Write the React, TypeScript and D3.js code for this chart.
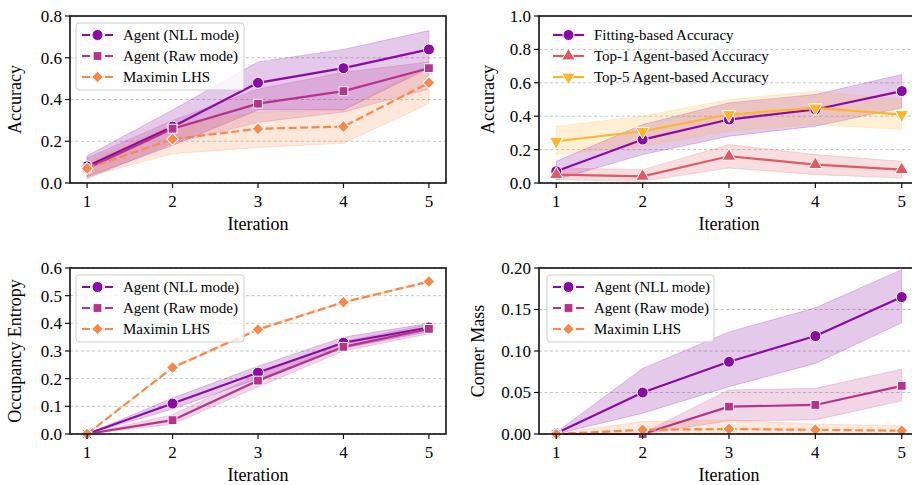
import React from 'react';
import * as d3 from 'd3';

// x positions (iterations)
const iterations = [1, 2, 3, 4, 5];

// panel A: accuracy by sampling method
const accNll = [0.08, 0.27, 0.48, 0.55, 0.64];
const accNllLo = [0.03, 0.18, 0.35, 0.35, 0.55];
const accNllHi = [0.13, 0.35, 0.58, 0.64, 0.73];
const accRaw = [0.07, 0.26, 0.38, 0.44, 0.55];
const accRawLo = [0.02, 0.19, 0.29, 0.34, 0.45];
const accRawHi = [0.12, 0.30, 0.45, 0.53, 0.58];
const accLhs = [0.07, 0.21, 0.26, 0.27, 0.48];
const accLhsLo = [0.03, 0.14, 0.17, 0.19, 0.38];
const accLhsHi = [0.10, 0.28, 0.34, 0.35, 0.57];

// panel B: fitting vs agent accuracy
const fitAcc = [0.07, 0.26, 0.38, 0.44, 0.55];
const fitAccLo = [0.02, 0.17, 0.28, 0.34, 0.45];
const fitAccHi = [0.13, 0.35, 0.48, 0.53, 0.65];
const top1Acc = [0.05, 0.04, 0.16, 0.11, 0.08];
const top1AccLo = [0.02, 0.01, 0.09, 0.05, 0.03];
const top1AccHi = [0.09, 0.08, 0.23, 0.17, 0.13];
const top5Acc = [0.25, 0.31, 0.41, 0.45, 0.41];
const top5AccLo = [0.17, 0.22, 0.31, 0.35, 0.32];
const top5AccHi = [0.34, 0.40, 0.50, 0.55, 0.50];

// panel C: occupancy entropy
const entNll = [0.0, 0.11, 0.222, 0.33, 0.385];
const entNllLo = [0.0, 0.09, 0.20, 0.31, 0.37];
const entNllHi = [0.0, 0.13, 0.245, 0.35, 0.40];
const entRaw = [0.0, 0.05, 0.193, 0.315, 0.38];
const entRawLo = [0.0, 0.035, 0.17, 0.30, 0.362];
const entRawHi = [0.0, 0.07, 0.215, 0.335, 0.396];
const entLhs = [0.0, 0.24, 0.378, 0.476, 0.551];
const entLhsLo = [0.0, 0.236, 0.374, 0.472, 0.548];
const entLhsHi = [0.0, 0.244, 0.382, 0.48, 0.554];

// panel D: corner mass
const cmNll = [0.001, 0.050, 0.087, 0.118, 0.165];
const cmNllLo = [0.0, 0.025, 0.057, 0.085, 0.134];
const cmNllHi = [0.002, 0.079, 0.123, 0.152, 0.198];
const cmRaw = [0.0, 0.0, 0.033, 0.035, 0.058];
const cmRawLo = [0.0, 0.0, 0.016, 0.017, 0.040];
const cmRawHi = [0.0, 0.001, 0.053, 0.055, 0.078];
const cmLhs = [0.0, 0.005, 0.006, 0.005, 0.004];
const cmLhsLo = [0.0, 0.0, 0.0, 0.0, 0.0];
const cmLhsHi = [0.001, 0.015, 0.017, 0.012, 0.010];

const modeNames = ['Agent (NLL mode)', 'Agent (Raw mode)', 'Maximin LHS'];
const accNames = ['Fitting-based Accuracy', 'Top-1 Agent-based Accuracy', 'Top-5 Agent-based Accuracy'];

const accTicks = [0, 0.2, 0.4, 0.6, 0.8];
const accTicks2 = [0, 0.2, 0.4, 0.6, 0.8, 1.0];
const entTicks = [0, 0.1, 0.2, 0.3, 0.4, 0.5, 0.6];
const cmTicks = [0, 0.05, 0.1, 0.15, 0.2];

const PURPLE = '#8a0aa5';
const MAGENTA = '#b7328b';
const ORANGE = '#f48a4a';
const RED = '#de5b66';
const YELLOW = '#fdb52c';

const FONT = '"Liberation Serif", "DejaVu Serif", serif';

type Series = {
  name: string; y: number[]; lo: number[]; hi: number[];
  color: string; marker: string; dashed: boolean; bandOpacity: number;
};

const markerPath = (m: string) => {
  if (m === 'circle') return d3.symbol().type(d3.symbolCircle).size(95)()!;
  if (m === 'square') return d3.symbol().type(d3.symbolSquare).size(78)()!;
  if (m === 'diamond') return d3.symbol().type(d3.symbolSquare).size(72)()!;
  return d3.symbol().type(d3.symbolTriangle).size(80)()!;
};
const markerRot = (m: string) => (m === 'diamond' ? 45 : m === 'tridown' ? 180 : 0);

const Panel = (p: {
  left: number; right: number; top: number; bottom: number;
  ymax: number; ticks: number[]; fmt: string; ylabel: string; ylabelX: number;
  series: Series[]; legend: { x: number; y: number; w: number; h: number; frame: boolean; legDashed: boolean };
}) => {
  const x = d3.scaleLinear().domain([0.8, 5.2]).range([p.left, p.right]);
  const y = d3.scaleLinear().domain([0, p.ymax]).range([p.bottom, p.top]);
  const f = d3.format(p.fmt);
  const line = d3.line<number>().x((_, i) => x(iterations[i])).y(d => y(d));
  const cx = (p.left + p.right) / 2;
  return (
    <g>
      {p.ticks.map(t => (
        <line key={'g' + t} x1={p.left} x2={p.right} y1={y(t)} y2={y(t)} stroke="#b5b5b5" strokeWidth={0.8} strokeDasharray="3,2.5" />
      ))}
      {p.series.map(s => {
        const area = d3.area<number>().x((_, i) => x(iterations[i])).y0((_, i) => y(s.lo[i])).y1((_, i) => y(s.hi[i]));
        return <path key={'a' + s.name} d={area(s.y)!} fill={s.color} fillOpacity={s.bandOpacity} stroke={s.color} strokeOpacity={s.bandOpacity} strokeWidth={1} />;
      })}
      {p.series.map(s => (
        <g key={'l' + s.name}>
          <path d={line(s.y)!} fill="none" stroke={s.color} strokeWidth={2.2} strokeDasharray={s.dashed ? '8,3.5' : undefined} />
          {s.y.map((v, i) => (
            <path key={i} d={markerPath(s.marker)} transform={`translate(${x(iterations[i])},${y(v)}) rotate(${markerRot(s.marker)})`} fill={s.color} stroke="#fff" strokeWidth={1} />
          ))}
        </g>
      ))}
      <rect x={p.left} y={p.top} width={p.right - p.left} height={p.bottom - p.top} fill="none" stroke="#111" strokeWidth={1.6} />
      {p.ticks.map(t => (
        <g key={'yt' + t}>
          <line x1={p.left - 5} x2={p.left} y1={y(t)} y2={y(t)} stroke="#111" strokeWidth={1.2} />
          <text x={p.left - 8} y={y(t)} dy="0.35em" textAnchor="end" fontSize={17} fontFamily={FONT}>{f(t)}</text>
        </g>
      ))}
      {iterations.map(t => (
        <g key={'xt' + t}>
          <line x1={x(t)} x2={x(t)} y1={p.bottom} y2={p.bottom + 5} stroke="#111" strokeWidth={1.2} />
          <text x={x(t)} y={p.bottom + 24} textAnchor="middle" fontSize={17} fontFamily={FONT}>{t}</text>
        </g>
      ))}
      <text x={cx} y={p.bottom + 47} textAnchor="middle" fontSize={18} fontFamily={FONT}>Iteration</text>
      <text transform={`translate(${p.ylabelX},${(p.top + p.bottom) / 2}) rotate(-90)`} dy="0.35em" textAnchor="middle" fontSize={18} fontFamily={FONT}>{p.ylabel}</text>
      <g>
        {p.legend.frame && (
          <rect x={p.legend.x} y={p.legend.y} width={p.legend.w} height={p.legend.h} rx={3} fill="#fff" fillOpacity={0.8} stroke="#cccccc" strokeWidth={1} />
        )}
        {p.series.map((s, i) => {
          const ly = p.legend.y + 12 + i * 21;
          const lx = p.legend.x + 6;
          return (
            <g key={'lg' + s.name}>
              <line x1={lx} x2={lx + 31} y1={ly} y2={ly} stroke={s.color} strokeWidth={2.2} strokeDasharray={p.legend.legDashed ? '8,3.5' : undefined} />
              <path d={markerPath(s.marker)} transform={`translate(${lx + 15.5},${ly}) rotate(${markerRot(s.marker)})`} fill={s.color} stroke="#fff" strokeWidth={1} />
              <text x={lx + 41} y={ly} dy="0.35em" fontSize={15} fontFamily={FONT}>{s.name}</text>
            </g>
          );
        })}
      </g>
    </g>
  );
};

const modeSeries = (ys: number[][]): Series[] => [
  { name: modeNames[0], y: ys[0], lo: ys[1], hi: ys[2], color: PURPLE, marker: 'circle', dashed: false, bandOpacity: 0.22 },
  { name: modeNames[1], y: ys[3], lo: ys[4], hi: ys[5], color: MAGENTA, marker: 'square', dashed: false, bandOpacity: 0.2 },
  { name: modeNames[2], y: ys[6], lo: ys[7], hi: ys[8], color: ORANGE, marker: 'diamond', dashed: true, bandOpacity: 0.2 },
];

export default function App() {
  const accSeries = modeSeries([accNll, accNllLo, accNllHi, accRaw, accRawLo, accRawHi, accLhs, accLhsLo, accLhsHi]);
  const entSeries = modeSeries([entNll, entNllLo, entNllHi, entRaw, entRawLo, entRawHi, entLhs, entLhsLo, entLhsHi]);
  const cmSeries = modeSeries([cmNll, cmNllLo, cmNllHi, cmRaw, cmRawLo, cmRawHi, cmLhs, cmLhsLo, cmLhsHi]);
  const fitSeries: Series[] = [
    { name: accNames[0], y: fitAcc, lo: fitAccLo, hi: fitAccHi, color: PURPLE, marker: 'circle', dashed: false, bandOpacity: 0.22 },
    { name: accNames[1], y: top1Acc, lo: top1AccLo, hi: top1AccHi, color: RED, marker: 'triup', dashed: false, bandOpacity: 0.2 },
    { name: accNames[2], y: top5Acc, lo: top5AccLo, hi: top5AccHi, color: YELLOW, marker: 'tridown', dashed: false, bandOpacity: 0.2 },
  ];
  return (
    <div style={{ position: 'fixed', left: 0, top: 0, width: 912, height: 485, background: '#fff' }}>
      <svg width={912} height={485} style={{ display: 'block', overflow: 'hidden' }}>
        <Panel left={70} right={446} top={16} bottom={183} ymax={0.8} ticks={accTicks} fmt=".1f" ylabel="Accuracy" ylabelX={15}
          series={accSeries} legend={{ x: 76, y: 23, w: 168, h: 67, frame: true, legDashed: true }} />
        <Panel left={539} right={919} top={16} bottom={183} ymax={1.0} ticks={accTicks2} fmt=".1f" ylabel="Accuracy" ylabelX={488}
          series={fitSeries} legend={{ x: 547, y: 23, w: 220, h: 67, frame: false, legDashed: false }} />
        <Panel left={70} right={446} top={268} bottom={434} ymax={0.6} ticks={entTicks} fmt=".1f" ylabel="Occupancy Entropy" ylabelX={15}
          series={entSeries} legend={{ x: 76, y: 275, w: 168, h: 67, frame: true, legDashed: true }} />
        <Panel left={539} right={919} top={268} bottom={434} ymax={0.2} ticks={cmTicks} fmt=".2f" ylabel="Corner Mass" ylabelX={478}
          series={cmSeries} legend={{ x: 547, y: 275, w: 167, h: 67, frame: true, legDashed: true }} />
      </svg>
    </div>
  );
}
